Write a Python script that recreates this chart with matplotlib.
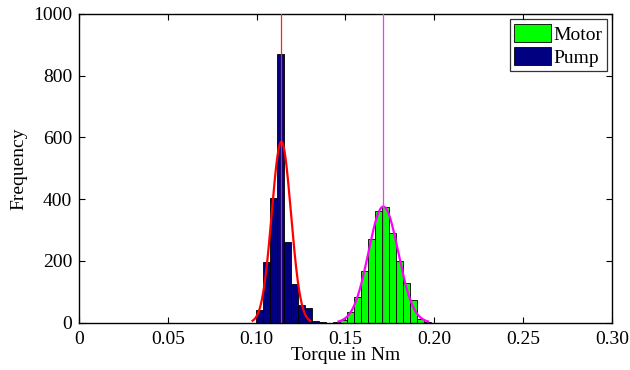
import numpy as np
import matplotlib
matplotlib.use("Agg")
import matplotlib.pyplot as plt

plt.rcParams['font.family'] = ['Liberation Serif', 'DejaVu Serif']
plt.rcParams['mathtext.fontset'] = 'stix'

# Data
bin_width = 0.00395
pump_centers = [0.1016, 0.1055, 0.1095, 0.1134, 0.1174, 0.1213, 0.1253, 0.1292, 0.1332, 0.1371]
pump_counts = [41, 196, 404, 871, 261, 126, 56, 47, 5, 2]
motor_centers = [0.1451, 0.1490, 0.1530, 0.1569, 0.1609, 0.1648, 0.1687, 0.1727,
                 0.1766, 0.1805, 0.1845, 0.1884, 0.1924, 0.1963]
motor_counts = [3, 9, 34, 82, 167, 270, 361, 376, 290, 199, 128, 73, 11, 2]

pump_mu, pump_sigma = 0.1139, 0.0054
motor_mu, motor_sigma = 0.1713, 0.0084

x_ticks = [0, 0.05, 0.10, 0.15, 0.20, 0.25, 0.30]
x_ticklabels = ['0', '0.05', '0.10', '0.15', '0.20', '0.25', '0.30']
y_ticks = [0, 200, 400, 600, 800, 1000]

fig = plt.figure(figsize=(6.3, 3.7), dpi=100)
ax = fig.add_axes([0.1254, 0.1278, 0.8460, 0.8344])

ax.bar(motor_centers, motor_counts, width=bin_width, color='#00ff00',
       edgecolor='black', linewidth=0.6, label='Motor', zorder=2)
ax.bar(pump_centers, pump_counts, width=bin_width, color='#000080',
       edgecolor='black', linewidth=0.6, label='Pump', zorder=2)

def fit_curve(mu, sigma, counts):
    n = sum(counts)
    xs = np.linspace(mu - 3 * sigma, mu + 3 * sigma, 200)
    ys = n * bin_width / (sigma * np.sqrt(2 * np.pi)) * np.exp(-0.5 * ((xs - mu) / sigma) ** 2)
    return xs, ys

xp, yp = fit_curve(pump_mu, pump_sigma, pump_counts)
ax.plot(xp, yp, color='red', linewidth=1.6, zorder=3)
xm, ym = fit_curve(motor_mu, motor_sigma, motor_counts)
ax.plot(xm, ym, color='magenta', linewidth=1.6, zorder=3)

ax.axvline(pump_mu, color='#ff2020', linewidth=0.9, zorder=4)
ax.axvline(motor_mu, color='#ff30ff', linewidth=0.9, zorder=4)

ax.set_xlim(0, 0.30)
ax.set_ylim(0, 1000)
ax.set_xticks(x_ticks)
ax.set_xticklabels(x_ticklabels)
ax.set_yticks(y_ticks)
ax.tick_params(direction='in', top=True, right=True, length=4, width=0.8,
               labelsize=14, pad=5)
ax.tick_params(axis='x', pad=6)
for s in ax.spines.values():
    s.set_linewidth(1.0)

ax.set_xlabel('Torque in Nm', fontsize=14, labelpad=-1)
ax.set_ylabel('Frequency', fontsize=14, labelpad=4)

leg = ax.legend(loc='upper right', fontsize=14, frameon=True, fancybox=False,
                edgecolor='black', handlelength=1.9, handleheight=1.1,
                handletextpad=0.1, borderpad=0.25, labelspacing=0.15,
                borderaxespad=0.25)
leg.get_frame().set_linewidth(0.9)

fig.savefig('out.png', dpi=100)
